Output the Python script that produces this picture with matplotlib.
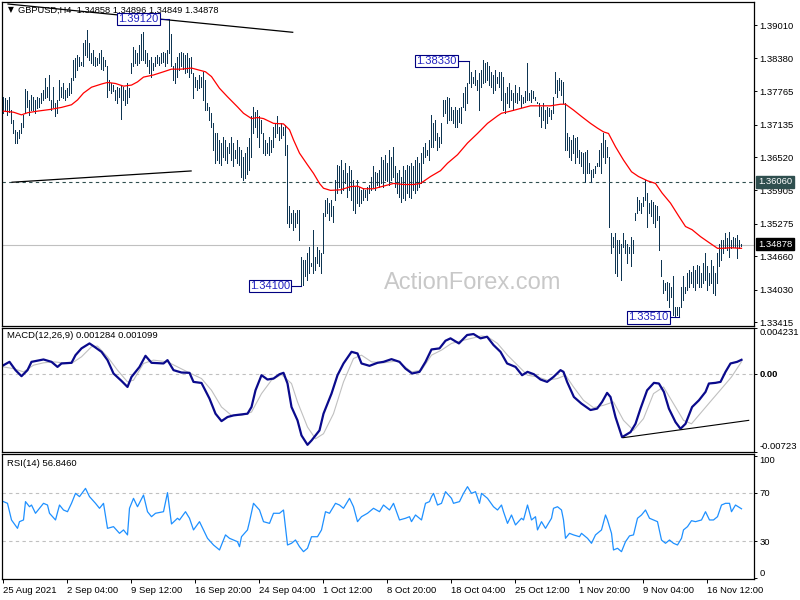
import matplotlib
matplotlib.use("Agg")
import matplotlib.pyplot as plt
import numpy as np

plt.rcParams['font.family'] = ['Liberation Sans', 'DejaVu Sans']

BASE = 1.33  # prices below are pips above this base

high_pips = [
    466, 463, 460, 466, 441, 422, 404, 400, 404, 416, 432, 480,
    476, 460, 469, 466, 460, 466, 463, 473, 479, 501, 485, 507,
    460, 485, 454, 460, 498, 485, 491, 479, 482, 491, 501,
    535, 538, 545, 541, 532, 567, 573, 592,
    567, 548, 554, 541, 538, 548, 554, 541, 535, 523, 498,
    491, 488, 479, 485, 482, 488, 485, 479, 491, 482,
    529, 560, 554, 548, 563, 585, 587, 554, 548, 535, 541, 529, 541,
    545, 541, 548, 551, 548, 554, 612, 585, 523, 529,
    541, 548, 551, 548, 545, 548, 538, 541, 510, 504, 498, 507, 504, 513,
    498, 454, 447, 435, 416, 397,
    397, 385, 379, 391, 385, 372, 379, 391, 379, 366, 385, 372,
    366, 353, 360, 372, 388,
    429, 447, 438, 441, 429, 422, 397, 385, 379, 391, 385, 410,
    416, 429, 410, 416, 410, 413, 375, 260, 247, 253, 247, 253,
    253, 165, 159, 159, 172, 184, 153, 216, 165, 184, 178, 172, 247,
    272, 275, 266, 272, 260, 310, 338,
    335, 347, 328, 341, 322, 335, 328, 310, 297, 310,
    297, 291, 294, 291, 297, 300, 316, 335, 325, 322, 328,
    353, 347, 357, 341, 366, 353, 372, 335, 322, 328, 316, 335, 328,
    338, 335, 341, 335, 347, 353, 341, 360, 372, 379, 366, 385, 432,
    416, 422, 397, 391, 416, 460, 460, 466, 463,
    447, 441, 447, 441, 444, 447, 473, 485, 491, 533,
    513, 504, 516, 498, 510, 516, 535, 529, 532, 523,
    513, 507, 516, 504, 513, 513, 504, 473,
    485, 491, 479, 473, 488, 473, 485, 469, 466, 476, 529,
    473, 479, 476, 466, 457, 454, 447, 454, 441, 447, 444, 441, 466,
    513, 498, 501, 498, 494, 454, 397, 391, 385, 394, 388, 391,
    366, 363, 360, 363, 366, 341, 328, 331, 335, 341,
    366, 379, 397, 385, 372, 353, 209, 203, 209, 197, 197, 190,
    209, 197, 190, 184, 203, 197, 247, 278, 272, 266, 278, 309,
    285, 266, 272, 269, 263, 260, 241, 159, 122, 115, 118, 115, 109,
    128, 71, 71, 71, 109, 128, 109,
    134, 140, 137, 147, 140, 150, 147, 134, 153, 172, 147, 134, 159, 147,
    134, 172, 190, 197, 197, 209, 200, 212, 197, 203, 200, 206, 197, 190,
]
low_pips = [
    435, 441, 432, 438, 416, 397, 379, 379, 388, 397, 410, 435,
    447, 432, 441, 441, 435, 444, 447, 454, 460, 463, 466, 460,
    441, 447, 429, 435, 460, 466, 463, 460, 466, 469, 473,
    498, 504, 516, 523, 526, 523, 545, 541,
    535, 529, 526, 523, 526, 529, 519, 516, 523, 466, 479,
    473, 476, 460, 454, 466, 425, 460, 451, 454, 466,
    510, 523, 529, 526, 529, 535, 535, 529, 523, 510, 504, 516, 523,
    529, 526, 529, 532, 523, 529, 548, 523, 498, 491,
    504, 516, 523, 519, 510, 513, 504, 510, 463, 485, 479, 482, 485, 460,
    441, 441, 422, 410, 366, 341,
    347, 341, 338, 353, 347, 341, 360, 347, 335, 350, 341, 338,
    316, 310, 313, 320, 328,
    353, 397, 410, 391, 372, 397, 360, 357, 360, 357, 363, 372,
    391, 397, 385, 388, 394, 357, 228, 222, 228, 216, 222, 228,
    197, 110, 112, 128, 122, 134, 147, 134, 140, 153, 147, 134, 172,
    241, 247, 235, 241, 231, 272, 285,
    297, 285, 291, 303, 278, 291, 272, 253, 247, 266,
    260, 266, 272, 278, 272, 285, 291, 297, 291, 300, 297,
    303, 297, 310, 307, 300, 310, 316, 297, 285, 278, 269, 275, 272,
    285, 278, 275, 291, 285, 291, 297, 303, 341, 353, 357, 347, 372,
    372, 385, 366, 372, 379, 429, 435, 416, 422,
    422, 416, 410, 410, 419, 416, 447, 441, 454, 491,
    485, 491, 488, 479, 441, 485, 491, 494, 498, 488,
    485, 473, 479, 491, 485, 460, 441, 435,
    454, 447, 460, 441, 457, 454, 460, 447, 454, 457, 460,
    460, 457, 463, 460, 454, 429, 410, 422, 407, 416, 429, 425, 435,
    473, 466, 479, 469, 454, 366, 366, 353, 347, 360, 341, 353,
    341, 335, 322, 306, 322, 322, 306, 316, 322, 335,
    335, 322, 353, 341, 353, 222, 172, 184, 134, 128, 172, 122,
    184, 172, 153, 172, 147, 172, 234, 247, 253, 247, 260, 272,
    222, 247, 241, 228, 222, 234, 178, 128, 97, 103, 84, 71, 90,
    56, 53, 55, 51, 71, 84, 97,
    103, 109, 115, 109, 103, 115, 109, 109, 115, 122, 103, 112, 115, 97,
    93, 115, 147, 159, 172, 181, 178, 165, 181, 184, 184, 162, 181, 185,
]

ma_bars = [0, 5, 9, 12, 17, 23, 29, 34, 37, 40, 44, 49, 52, 56, 60, 64, 67, 70,
           75, 80, 84, 89, 94, 99, 101, 104, 108, 112, 117, 120, 124,
           127, 130, 135, 140, 143, 145, 148, 152, 155, 158, 160, 163.5, 168.5,
           173.5, 177, 180, 185, 190, 195, 200, 205, 208.5, 213.5, 218.5, 222,
           227, 232, 237, 242, 247,
           249, 253.5, 258.5, 263.5, 268.5, 273.5, 278.5, 281, 285, 289, 293.5,
           297, 300, 302.5, 306, 310, 314, 317.5, 322, 326, 329.3, 333.5, 337.7,
           341, 344.3, 348.5, 352.7, 357, 359.3, 363.5, 369]
ma_pips = [439, 437, 432, 436, 439, 442, 446, 451, 460, 473, 484, 490, 493, 491,
           486, 488, 494, 503, 507, 513, 518, 518, 520, 515, 513, 504, 482, 466,
           447, 435, 425,
           427, 425, 416, 415, 404, 385, 360, 338, 322, 303, 294, 290, 291, 297,
           298, 293, 293, 298, 303, 301, 301, 303, 316, 327, 341, 357, 379, 397,
           416, 430,
           435, 439, 444, 449, 449, 449, 452, 452, 441, 429, 416, 407, 400, 397,
           372, 347, 325, 316, 308, 303, 285, 266, 241, 222, 216, 203, 192, 181,
           181, 182, 181]

macd_bars = [0, 3, 6, 9, 12, 14, 20, 24, 27, 29, 34, 36, 39, 43, 45, 49, 52, 55,
             59, 62, 64, 68, 71, 74, 80, 82, 85, 89, 93, 95, 99, 103, 106, 109,
             112, 115, 122, 124, 126, 129, 132, 135, 138, 140, 142, 144, 147, 149,
             152, 154, 158, 160, 164, 167, 170, 174, 177, 179, 183, 187, 190, 194,
             198, 201, 204.3, 208, 211, 214, 218, 221, 223.5, 227.7, 231.8, 235,
             238.5, 241.8, 245, 248.5, 251.8, 256, 259.3, 262, 265.2, 268.5, 271.8,
             275, 278.5, 280, 281.8, 285.2, 289, 293.5, 296.8, 299.3, 301.8, 303.5,
             306, 309.3, 313.5, 316, 318.5, 321.8, 325.2, 327.7, 330.2, 332.7, 336,
             338.5, 341, 344.3, 347.7, 351, 352.7, 356, 358.5, 361, 363.5, 366.8, 369]
macd_e4 = [7.8, 10.9, 3.2, -2.4, 3.2, 10.9, 13.1, 10.9, 6.2, 9.4, 10.0, 17.1, 23.4,
           28.0, 25.5, 20.2, 12.5, 0.1, -6.8, -12.4, -3.1, 6.2, 16.5, 10.0, 9.4,
           12.5, 3.2, 1.0, 0.7, -7.7, -8.7, -23.2, -37.2, -44.1, -40.3, -38.8,
           -37.2, -31.0, -15.5, -1.5, -5.5, -4.6, -0.6, 0.7, -9.2, -31.0, -43.4,
           -57.4, -66.1, -62.1, -52.7, -37.2, -18.6, -1.5, 9.4, 20.2, 18.7, 9.4,
           7.2, 10.0, 10.9, 13.4, 10.9,
           4.6, 0.1, 1.6, 10.9, 22.4, 23.4, 30.5, 32.7, 28.0, 35.8, 36.7, 32.7,
           34.2, 26.5, 20.2, 9.4, 6.2, -1.5, 1.6, -0.6, -5.5, -7.7, -3.1, 3.2,
           1.6, -7.7, -21.7, -27.9, -33.8, -32.5, -26.3, -17.9, -21.7, -40.3,
           -59.0, -54.3, -46.6, -32.5, -15.5, -8.6, -9.2, -17.0, -32.5, -45.0,
           -51.2, -46.6, -31.0, -24.8, -17.0, -9.2, -8.6, -7.7, 1.6, 9.4, 10.9, 12.8]

signal_bars = [0, 5, 10, 15, 20, 25, 30, 34, 39, 44, 47, 52, 57, 62, 65, 70, 75,
               82, 87, 92, 99, 104, 109, 114, 119, 124, 129, 134, 139, 144, 147,
               152, 156, 160, 165, 170, 175, 179, 184, 190, 197,
               204, 209, 214, 219, 224, 229, 234, 239, 242, 247, 252, 257, 262,
               267, 272, 277, 281, 285, 290, 295, 300, 305, 310, 315, 320, 325,
               330, 335, 340, 344, 349, 354, 359, 364, 369]
signal_e4 = [6.2, 4.6, 1.6, 7.8, 10.0, 10.9, 10.0, 9.4, 15.6, 24.9, 25.5, 15.6,
             3.2, -7.7, -6.1, 9.4, 12.5, 10.9, 6.2, 1.6, -4.6, -15.5, -31.0,
             -38.8, -38.8, -35.7, -18.6, -6.1, -0.9, -9.2, -26.3, -49.6, -60.5,
             -55.8, -37.2, -7.7, 14.0, 17.1, 10.9, 10.0, 11.8,
             1.6, 3.2, 17.1, 21.8, 28.0, 30.5, 32.7, 34.9, 34.2, 28.0, 17.1, 7.8,
             -1.5, -3.1, -6.1, -4.6, -1.5, -12.4, -24.8, -31.6, -29.4, -26.3,
             -43.4, -52.7, -41.8, -18.6, -12.4, -27.9, -43.4, -46.6, -35.7,
             -24.8, -14.0, -3.1, 11.0]

rsi_bars = [0, 2, 4, 7, 8, 10, 11, 13, 14, 16, 18, 20, 22, 23, 26, 28, 30, 32, 34,
            36, 38, 41, 43, 46, 48, 50, 52, 55, 58, 60, 62, 63, 65, 67, 70, 72,
            74, 76, 80, 82, 84, 87, 88, 91, 93, 95, 98, 100, 102, 105, 108, 111,
            113, 117, 118, 119, 122, 123, 125, 128, 130, 133, 135, 138, 140, 142,
            144, 146, 148, 150, 152, 154, 157, 159, 161, 163, 166, 168, 170, 173,
            175, 177, 179, 182, 185, 188, 190, 193, 195, 198,
            201, 203, 204, 206, 208, 209, 211, 213, 214, 215, 217, 219, 221, 224,
            225, 228, 230, 232, 234, 236, 238, 239, 242, 245, 247, 249, 250, 252,
            254, 256, 259, 260, 262, 264, 266, 267, 269, 271, 274, 275, 277, 279,
            280, 281, 283, 285, 288, 289, 292, 294, 296, 299, 301, 302, 304, 305,
            307, 309, 311, 313, 315, 317, 319, 321, 323, 325, 327, 329, 331, 333,
            335, 337, 339, 340, 342, 344, 346, 349, 351, 353, 355, 357, 359, 361,
            363, 364, 366, 369]
rsi_vals = [62.7, 61.3, 47.6, 40.7, 46.2, 47.6, 62.7, 58.5, 59.9, 53.1, 57.2, 61.3,
            59.9, 53.1, 47.6, 59.9, 55.8, 54.4, 61.3, 69.5, 66.8, 73.6, 66.8, 61.3,
            57.2, 61.3, 40.7, 42.1, 36.6, 39.4, 35.3, 57.2, 65.4, 58.5, 68.1, 54.4,
            50.3, 53.1, 54.4, 70.1, 44.3, 49.0, 47.6, 54.4, 49.0, 39.4, 46.2, 39.4,
            32.5, 27.0, 22.9, 35.3, 32.5, 29.7, 25.6, 33.8, 39.4, 46.2, 61.3, 55.8,
            46.2, 44.8, 53.1, 53.1, 55.8, 27.0, 28.4, 31.1, 25.6, 21.5, 24.3, 33.8,
            33.8, 39.4, 54.4, 53.1, 61.3, 59.9, 57.2, 65.4, 58.5, 46.2, 50.3, 53.1,
            57.2, 54.4, 59.9, 55.8, 61.3, 47.6,
            49.0, 50.3, 46.2, 51.7, 49.0, 47.6, 61.3, 62.7, 66.8, 69.5, 59.9, 61.3,
            70.9, 65.4, 61.3, 62.7, 69.5, 75.0, 69.5, 70.9, 61.3, 69.5, 65.4, 58.5,
            55.8, 59.9, 54.4, 44.8, 51.7, 43.5, 49.0, 47.6, 59.9, 47.6, 50.3, 39.4,
            46.2, 40.7, 49.0, 57.2, 58.5, 55.8, 47.6, 32.5, 36.6, 35.3, 33.8, 36.6,
            32.5, 28.4, 35.3, 39.4, 51.7, 47.6, 36.6, 22.9, 24.3, 21.5, 29.7, 34.5,
            35.3, 49.0, 51.7, 55.8, 49.0, 47.6, 46.2, 31.1, 28.4, 31.1, 28.4, 27.0,
            32.5, 39.4, 42.1, 47.0, 46.2, 47.6, 54.4, 47.6, 47.6, 50.3, 59.9, 61.3,
            61.3, 54.4, 59.9, 56.8]

date_ticks = [0, 32, 64, 96, 128, 160, 192, 224, 256, 288, 320, 352]
date_labels = ["25 Aug 2021", "2 Sep 04:00", "9 Sep 12:00", "16 Sep 20:00",
               "24 Sep 04:00", "1 Oct 12:00", "8 Oct 20:00", "18 Oct 04:00",
               "25 Oct 12:00", "1 Nov 20:00", "9 Nov 04:00", "16 Nov 12:00"]
price_ticks = [1.33415, 1.34030, 1.34660, 1.35275, 1.35905, 1.36520, 1.37135,
               1.37765, 1.38380, 1.39010]
macd_ticks = [0.004231, 0.0, -0.00723]
macd_tick_labels = ["0.004231", "0.00", "-0.00723"]
rsi_ticks = [100, 70, 30, 0]

# ---------------------------------------------------------------------
W, H = 800, 600
fig = plt.figure(figsize=(8, 6), dpi=100)
fig.patch.set_facecolor('white')


def ax_px(x0, y0, x1, y1):
    return fig.add_axes([x0 / W, 1 - y1 / H, (x1 - x0) / W, (y1 - y0) / H])


ax = ax_px(2, 2, 754, 326)
axm = ax_px(2, 328, 754, 451.5)
axr = ax_px(2, 454, 754, 579)

FS = 6.8
XMIN, XMAX = -0.75, 375.25
for a in (ax, axm, axr):
    a.set_xlim(XMIN, XMAX)
    for s in a.spines.values():
        s.set_color('black')
        s.set_linewidth(0.9)
    a.yaxis.tick_right()
    a.tick_params(axis='y', direction='out', length=2.2, width=0.7, pad=1.6,
                  labelsize=FS, colors='black')
    a.set_xticks([])

# ---------------- main price panel ----------------
hi = BASE + np.array(high_pips) / 1e4
lo = BASE + np.array(low_pips) / 1e4
xb = np.arange(len(hi))
ax.set_ylim(1.333490, 1.394426)
ax.vlines(xb, lo, hi, colors='#0e3552', lw=0.5, antialiased=False, zorder=3)
ax.plot(ma_bars, BASE + np.array(ma_pips) / 1e4, color='red', lw=0.9, zorder=4)

ax.axhline(1.36060, color='#2f4f4f', lw=0.8, ls=(0, (3, 3)), zorder=2)
ax.axhline(1.34878, color='#c0c0c0', lw=0.8, zorder=2)

# trend lines
ax.plot([2.25, 144.6], [1.39405, 1.38873], color='black', lw=0.9, zorder=5)
ax.plot([4.3, 93.8], [1.36053, 1.36265], color='black', lw=0.9, zorder=5)

ax.set_yticks(price_ticks)
ax.set_yticklabels([f"{p:.5f}" for p in price_ticks])

ax.text(473 / W, 1 - 283 / H, "ActionForex.com", transform=fig.transFigure,
        ha='center', va='center', fontsize=17, color='#c8c8c8', zorder=1)

box_kw = dict(boxstyle='square,pad=0.12', fc='white', ec='#000080', lw=0.8)
marks = [(67.5, 78.25, 83, 1.39120), (216.5, 226.9, 233, 1.38330),
         (133.2, 144.1, 149, 1.34100), (322.5, 333.0, 338, 1.33510)]
for xc, x0c, x1c, p in marks:
    ax.plot([x0c, x1c], [p, p], color='#000080', lw=0.8, zorder=5)
    ax.text(xc, p, f"{p:.5f}", ha='center', va='center', fontsize=8,
            color='#2020c0', bbox=box_kw, zorder=6)

fig.text(8 / W, 1 - 10 / H, "\u25BC", fontsize=5.5, va='center', ha='left',
         family=['DejaVu Sans'])
fig.text(18 / W, 1 - 10.5 / H, "GBPUSD,H4  1.34858 1.34896 1.34849 1.34878",
         fontsize=6.7, va='center', ha='left', color='black')

# right-side price boxes
fig.text(758 / W, 1 - 182 / H, "1.36060", fontsize=FS, color='white',
         va='center', ha='left',
         bbox=dict(boxstyle='square,pad=0.2', fc='#2f4f4f', ec='#2f4f4f'))
fig.text(758 / W, 1 - 244 / H, "1.34878", fontsize=FS, color='white',
         va='center', ha='left',
         bbox=dict(boxstyle='square,pad=0.2', fc='black', ec='black'))

# ---------------- MACD panel ----------------
axm.set_ylim(-0.00723, 0.004231)
axm.axhline(0, color='#c0c0c0', lw=0.8, ls=(0, (3, 3)))
axm.plot(signal_bars, np.array(signal_e4) / 1e4, color='#c0c0c0', lw=0.8)
axm.plot(macd_bars, np.array(macd_e4) / 1e4, color='#0a0a8c', lw=1.6)
axm.plot([309.8, 372.6], [-59.5e-4, -43.4e-4], color='black', lw=0.8)
axm.set_yticks(macd_ticks)
axm.set_yticklabels(macd_tick_labels)
tl = axm.get_yticklabels()
tl[0].set_va('top')
tl[2].set_va('bottom')
tl[1].set_fontweight('bold')
axm.text(5 / 752, 1 - 8 / 123.5, "MACD(12,26,9) 0.001284 0.001099",
         transform=axm.transAxes, fontsize=FS, va='center', ha='left')

# ---------------- RSI panel ----------------
axr.set_ylim(-1.0, 101.9)
axr.axhline(70, color='#c0c0c0', lw=0.8, ls=(0, (3, 3)))
axr.axhline(30, color='#c0c0c0', lw=0.8, ls=(0, (3, 3)))
axr.plot(rsi_bars, rsi_vals, color='#1e90ff', lw=0.9)
axr.set_yticks(rsi_ticks)
axr.set_yticklabels([str(v) for v in rsi_ticks])
rl = axr.get_yticklabels()
rl[0].set_va('top')
rl[3].set_va('bottom')
axr.text(5 / 752, 1 - 9 / 125, "RSI(14) 56.8460", transform=axr.transAxes,
         fontsize=FS, va='center', ha='left')
axr.set_xticks(date_ticks)
axr.set_xticklabels(date_labels, ha='left')
axr.tick_params(axis='x', direction='out', length=3, width=0.7, pad=2,
                labelsize=FS)

fig.savefig("out.png", dpi=100)
